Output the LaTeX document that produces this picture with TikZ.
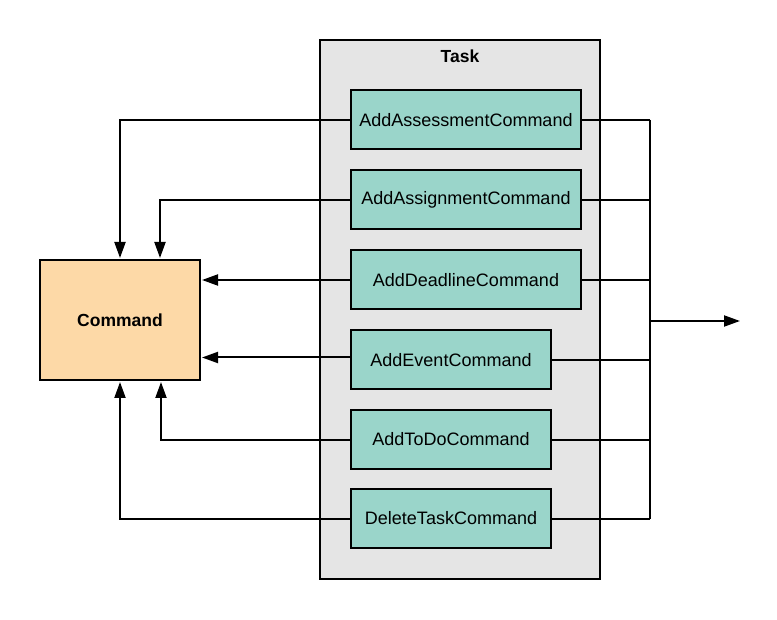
\documentclass[tikz,border=0pt]{standalone}
\usepackage{fontspec}
\setmainfont{Liberation Sans}
\usetikzlibrary{arrows.meta}
\definecolor{taskGray}{HTML}{E5E5E5}
\definecolor{subTeal}{HTML}{9AD5CA}
\definecolor{cmdPeach}{HTML}{FDD9A7}
\begin{document}
\begin{tikzpicture}[x=1pt,y=-1pt,
  every node/.style={font=\fontsize{18}{20}\selectfont},
  frameBox/.style={draw,line width=2pt,fill=taskGray},
  subCmd/.style={draw,line width=2pt,fill=subTeal,inner sep=0pt,
    minimum height=59pt,anchor=west},
  link/.style={line width=2pt},
  arr/.style={line width=2pt,-{Triangle[length=16pt,width=11pt]},shorten >=1pt}
]
  \useasboundingbox (0,0) rectangle (777,620);

  \draw[frameBox] (320,40) rectangle (600,579);
  \node[font=\fontsize{17.5}{20}\selectfont\bfseries] (taskTitle) at (460,56) {Task};

  \node[subCmd,minimum width=230pt] (assess)   at (350,120)   {AddAssessmentCommand};
  \node[subCmd,minimum width=230pt] (assign)   at (350,200)   {AddAssignmentCommand};
  \node[subCmd,minimum width=230pt] (deadline) at (350,280)   {AddDeadlineCommand};
  \node[subCmd,minimum width=200pt] (event)    at (350,360)   {AddEventCommand};
  \node[subCmd,minimum width=200pt] (todo)     at (350,439.5) {AddToDoCommand};
  \node[subCmd,minimum width=200pt] (delete)   at (350,518.5) {DeleteTaskCommand};

  \node[draw,line width=2pt,fill=cmdPeach,minimum width=160pt,minimum height=120pt,
    font=\fontsize{17.5}{20}\selectfont\bfseries] (command) at (120,320) {Command};

  \draw[arr] (assess.west) -| (command.north);
  \draw[arr] (assign.west) -| ([xshift=40pt]command.north);
  \draw[arr] (deadline.west) -- (deadline.west -| command.east);
  \draw[arr] ([yshift=2.5pt]event.west) -- ([yshift=2.5pt]event.west -| command.east);
  \draw[arr] (todo.west) -| ([xshift=41pt]command.south);
  \draw[arr] (delete.west) -| (command.south);

  \coordinate (bus) at (650,321);
  \coordinate (outEnd) at (740,321);
  \foreach \n in {assess,assign,deadline,event,todo,delete}
    \draw[link] (\n.east) -- (\n.east -| bus);
  \draw[link] (assess.east -| bus) -- (delete.east -| bus);
  \draw[arr,shorten >=0pt] (bus) -- (outEnd);
\end{tikzpicture}
\end{document}
